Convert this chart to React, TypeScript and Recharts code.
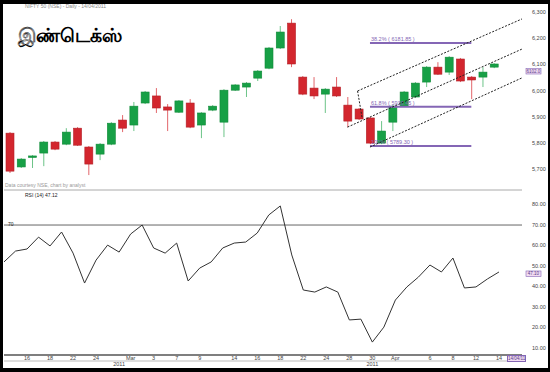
import React from 'react';
import { ComposedChart, Bar, Line, XAxis, YAxis, ReferenceLine } from 'recharts';

// trading days (last two are empty future slots)
const dates = [
  '2011-02-14', '2011-02-15', '2011-02-16', '2011-02-17', '2011-02-18',
  '2011-02-21', '2011-02-22', '2011-02-23', '2011-02-24', '2011-02-25', '2011-02-28',
  '2011-03-01', '2011-03-02', '2011-03-03', '2011-03-04',
  '2011-03-07', '2011-03-08', '2011-03-09', '2011-03-10', '2011-03-11',
  '2011-03-14', '2011-03-15', '2011-03-16', '2011-03-17', '2011-03-18',
  '2011-03-21', '2011-03-22', '2011-03-23', '2011-03-24', '2011-03-25',
  '2011-03-28', '2011-03-29', '2011-03-30', '2011-03-31',
  '2011-04-01', '2011-04-04', '2011-04-05', '2011-04-06', '2011-04-07', '2011-04-08',
  '2011-04-11', '2011-04-12', '2011-04-13', '2011-04-14',
  '2011-04-15', '2011-04-18',
];

const opens = [
  5838, 5709, 5747, 5762, 5804, 5796, 5857, 5785, 5758, 5796, 5888, 5869, 5953, 5980, 5938,
  5918, 5953, 5869, 5926, 5880, 6002, 6014, 6048, 6086, 6163, 6258, 6052, 6010, 5987, 6014,
  5945, 5930, 5896, 5800, 5880, 5941, 5976, 6033, 6090, 6071, 6121, 6052, 6052, 6090,
];
const highs = [
  5842, 5743, 5754, 5808, 5808, 5857, 5861, 5789, 5800, 5880, 5907, 5957, 5999, 6010, 5949,
  5964, 5968, 5918, 5945, 6006, 6025, 6033, 6079, 6167, 6247, 6273, 6056, 6052, 6010, 6052,
  5976, 5934, 5899, 5884, 5945, 5999, 6033, 6094, 6109, 6132, 6125, 6056, 6090, 6105,
];
const lows = [
  5686, 5705, 5705, 5712, 5773, 5792, 5789, 5678, 5735, 5792, 5842, 5846, 5949, 5915, 5846,
  5915, 5857, 5819, 5922, 5823, 5999, 5976, 6037, 6082, 6159, 6090, 5983, 5968, 5915, 5976,
  5861, 5888, 5796, 5796, 5846, 5938, 5972, 6014, 6060, 6060, 6033, 5968, 6014, 6086,
];
const closes = [
  5693, 5739, 5751, 5804, 5777, 5842, 5792, 5720, 5796, 5876, 5857, 5941, 5995, 5934, 5926,
  5961, 5861, 5915, 5941, 6002, 6022, 6029, 6075, 6163, 6224, 6102, 5987, 5980, 6006, 5980,
  5884, 5892, 5800, 5846, 5941, 5995, 6029, 6090, 6063, 6128, 6037, 6041, 6071, 6102,
];
const rsi = [
  52, 57.3, 58.3, 64.1, 59.8, 66.6, 56.3, 41.7, 52.9, 60.2, 56.8, 65.6, 70, 58.8, 56.3,
  61.2, 42.7, 49, 52, 58.8, 61.2, 61.7, 66.1, 74.9, 79.3, 55.4, 38.3, 37.3, 39.8, 37.3,
  23.7, 24.1, 12.9, 20.2, 33.4, 39.8, 44.6, 50.5, 47.1, 53.9, 39.3, 39.8, 43.7, 47.1,
];

const priceTicks = [5700, 5800, 5900, 6000, 6100, 6200, 6300];
const rsiTicks = [10, 20, 30, 40, 50, 60, 70, 80];

const xTickIdx = [2, 4, 6, 8, 11, 13, 15, 17, 20, 22, 24, 26, 28, 30, 32, 34, 37, 39, 41, 43];
const xTickText = ['16', '18', '22', '24', 'Mar', '3', '7', '9', '14', '16', '18', '22', '24', '28', '30', 'Apr', '6', '8', '12', '14'];
const yearIdx = [10, 32];

const fibPct = ['38.2%', '61.8%', '100%'];
const fibPrice = [6181.85, 5938.45, 5789.3];
const fibFrom = 32;
const fibTo = 41;

// channel: [x1, price1, x2, price2] in bar-index units
const channel = [
  [30.9, 5999, 45.5, 6274],
  [30.0, 5861, 45.5, 6159],
  [32.0, 5785, 45.5, 6049],
  [30.9, 5999, 31.3, 5896],
];

const data = dates.map((date, i) => ({
  date,
  i,
  o: opens[i] ?? null,
  h: highs[i] ?? null,
  l: lows[i] ?? null,
  c: closes[i] ?? null,
  range: highs[i] != null ? [lows[i], highs[i]] : null,
  rsi: rsi[i] ?? null,
}));

const PURPLE = '#8466b5';
const tickStyle = { fontSize: 5.5, fill: '#444', fontFamily: 'Arial, sans-serif' };

const Candle = (props: any) => {
  const { x, y, width, height, payload } = props;
  if (payload.o == null || height == null) return null;
  const { o, c, h, l } = payload;
  const top0 = Math.min(y, y + height);
  const hh = Math.abs(height);
  const py = (v: number) => top0 + ((h - v) / (h - l || 1)) * hh;
  const up = c >= o;
  const bt = py(Math.max(o, c));
  const bb = py(Math.min(o, c));
  const cx = x + width / 2;
  return (
    <g>
      <line x1={cx} x2={cx} y1={top0} y2={top0 + hh} stroke={up ? '#6cc488' : '#e2666b'} strokeWidth={1} />
      <rect
        x={x}
        y={bt}
        width={width}
        height={Math.max(1.5, bb - bt)}
        fill={up ? '#17a046' : '#d3262e'}
        stroke={up ? '#0f8a38' : '#b31f26'}
        strokeWidth={0.6}
      />
    </g>
  );
};

const FibLabel = ({ viewBox, text }: any) => {
  if (!viewBox) return null;
  return (
    <text x={viewBox.x + 1} y={viewBox.y - 2} fontSize={5.5} fill={PURPLE} fontFamily="Arial, sans-serif">
      {text}
    </text>
  );
};

const Tag = ({ viewBox, text, dy = 0 }: any) => {
  if (!viewBox) return null;
  const x = viewBox.x + viewBox.width + 4;
  const y = viewBox.y + dy;
  return (
    <g>
      <rect x={x} y={y - 2.5} width={15} height={5.5} fill="#f2dcf2" stroke={PURPLE} strokeWidth={0.6} />
      <text x={x + 7.5} y={y + 1.8} textAnchor="middle" fontSize={4.5} fill="#553a88" fontFamily="Arial, sans-serif">
        {text}
      </text>
    </g>
  );
};

const small = { position: 'absolute' as const, fontFamily: 'Arial, sans-serif', whiteSpace: 'nowrap' as const };

export default function App() {
  const last = data[opens.length - 1];
  return (
    <div style={{ position: 'absolute', left: 0, top: 0, width: 550, height: 372, background: '#000', overflow: 'hidden' }}>
      <div style={{ position: 'absolute', left: 3, top: 4, width: 545, height: 364, background: '#fff' }} />

      <div style={{ position: 'absolute', left: 0, top: 0 }}>
        <ComposedChart width={550} height={192} data={data} margin={{ top: 4, right: 0, left: 4, bottom: 2 }}>
          <XAxis xAxisId="c" dataKey="date" hide />
          <XAxis xAxisId="n" dataKey="i" type="number" domain={[-0.5, 45.5]} allowDataOverflow hide />
          <YAxis
            orientation="right"
            width={28}
            domain={[5621, 6331]}
            allowDataOverflow
            ticks={priceTicks}
            tickFormatter={(v: number) => v.toLocaleString('en-US')}
            tick={tickStyle}
            axisLine={false}
            tickLine={false}
            tickMargin={4}
          />
          <ReferenceLine xAxisId="c" y={5621} stroke="#aaa" strokeWidth={1} ifOverflow="visible" />
          <Bar xAxisId="c" dataKey="range" barSize={8} shape={<Candle />} isAnimationActive={false} />
          {fibPrice.map((p, k) => (
            <ReferenceLine
              key={'f' + k}
              xAxisId="n"
              segment={[{ x: fibFrom, y: p }, { x: fibTo, y: p }]}
              stroke={PURPLE}
              strokeWidth={2}
              ifOverflow="visible"
              label={<FibLabel text={`${fibPct[k]} ( ${p.toFixed(2)} )`} />}
            />
          ))}
          {channel.map((s, k) => (
            <ReferenceLine
              key={'ch' + k}
              xAxisId="n"
              segment={[{ x: s[0], y: s[1] }, { x: s[2], y: s[3] }]}
              stroke="#222"
              strokeWidth={1}
              strokeDasharray="2 1.5"
              ifOverflow="visible"
            />
          ))}
          <ReferenceLine
            xAxisId="c"
            y={last.c as number}
            stroke="none"
            ifOverflow="visible"
            label={<Tag text={(last.c as number).toFixed(1)} dy={7} />}
          />
        </ComposedChart>
      </div>

      <div style={{ position: 'absolute', left: 0, top: 185 }}>
        <ComposedChart width={550} height={187} data={data} margin={{ top: 6, right: 0, left: 4, bottom: 1 }}>
          <XAxis
            dataKey="date"
            ticks={xTickIdx.map((k) => dates[k])}
            interval={0}
            tickFormatter={(d: string) => xTickText[xTickIdx.indexOf(dates.indexOf(d))] ?? ''}
            tick={tickStyle}
            height={6}
            tickSize={1}
            tickMargin={0}
            tickLine={false}
            axisLine={{ stroke: '#555', strokeWidth: 1.5 }}
          />
          <XAxis
            xAxisId="yr"
            dataKey="date"
            ticks={yearIdx.map((k) => dates[k])}
            interval={0}
            tickFormatter={() => '2011'}
            tick={tickStyle}
            height={10}
            tickSize={1}
            tickMargin={0}
            tickLine={false}
            axisLine={{ stroke: '#bbb' }}
          />
          <YAxis
            orientation="right"
            width={28}
            domain={[6.6, 86.6]}
            allowDataOverflow
            ticks={rsiTicks}
            tickFormatter={(v: number) => v.toFixed(2)}
            tick={tickStyle}
            axisLine={false}
            tickLine={false}
            tickMargin={4}
          />
          <ReferenceLine y={70} stroke="#666" strokeWidth={1} />
          <Line dataKey="rsi" stroke="#333" strokeWidth={1} dot={false} isAnimationActive={false} />
          <ReferenceLine
            y={rsi[rsi.length - 1]}
            stroke="none"
            ifOverflow="visible"
            label={<Tag text={rsi[rsi.length - 1].toFixed(2)} dy={1.5} />}
          />
        </ComposedChart>
      </div>

      <div style={{ ...small, left: 25, top: 3, fontSize: 5, color: '#888' }}>NIFTY 50 (NSE) - Daily - 14/04/2011</div>
      <div style={{ ...small, left: 18, top: 22, fontSize: 19, fontWeight: 700, color: '#000', fontFamily: '"Noto Sans", "DejaVu Sans", sans-serif' }}>
        இண்டெக்ஸ்
      </div>
      <div style={{ ...small, left: 5, top: 182, fontSize: 5, color: '#999' }}>Data courtesy NSE, chart by analyst</div>
      <div style={{ ...small, left: 25, top: 192, fontSize: 5, color: '#222' }}>RSI (14) 47.12</div>
      <div style={{ ...small, left: 8, top: 221, fontSize: 5, color: '#222' }}>70</div>
      <div
        style={{
          ...small,
          left: 507,
          top: 355,
          width: 17,
          height: 5,
          border: `0.6px solid ${PURPLE}`,
          background: '#f2dcf2',
          fontSize: 4.5,
          lineHeight: '5px',
          textAlign: 'center',
          color: '#553a88',
        }}
      >
        14/04/11
      </div>
    </div>
  );
}
